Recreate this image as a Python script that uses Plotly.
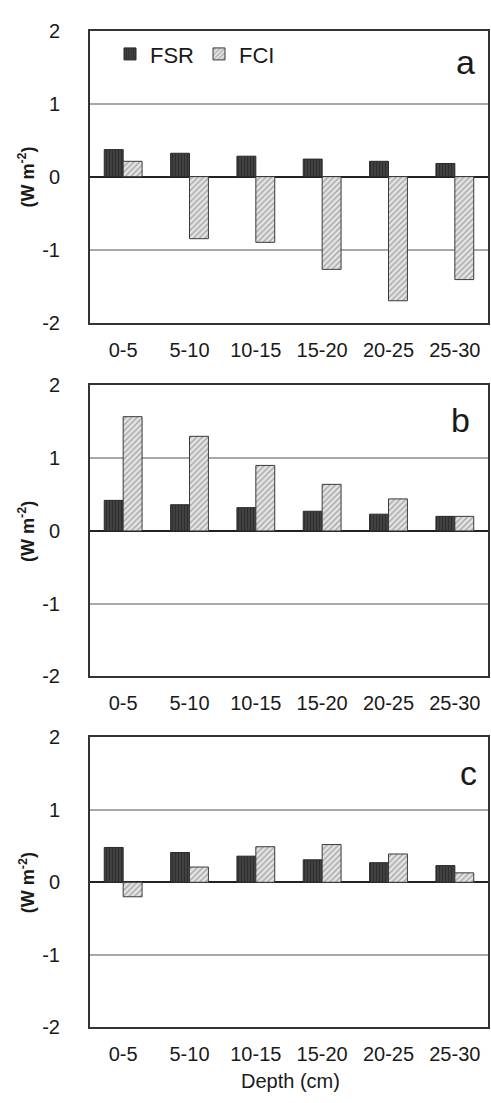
import plotly.graph_objects as go

depths = ["0-5", "5-10", "10-15", "15-20", "20-25", "25-30"]
fsr_a = [0.37, 0.32, 0.28, 0.24, 0.21, 0.18]
fci_a = [0.21, -0.85, -0.90, -1.27, -1.70, -1.41]
fsr_b = [0.42, 0.36, 0.32, 0.27, 0.23, 0.20]
fci_b = [1.57, 1.30, 0.90, 0.64, 0.44, 0.20]
fsr_c = [0.48, 0.41, 0.36, 0.31, 0.27, 0.23]
fci_c = [-0.20, 0.21, 0.49, 0.52, 0.39, 0.13]
panel_letters = ["a", "b", "c"]
y_ticks = [-2, -1, 0, 1, 2]

W, H = 491, 1103
FONT = "Liberation Sans, Arial, sans-serif"
x0, x1 = 90, 488
panels_px = [(20, 318), (382, 679), (741, 1037)]

fig = go.Figure()
series = [(fsr_a, fci_a), (fsr_b, fci_b), (fsr_c, fci_c)]
for i, (fsr, fci) in enumerate(series):
    xa = "x" if i == 0 else f"x{i+1}"
    ya = "y" if i == 0 else f"y{i+1}"
    fig.add_trace(go.Bar(
        x=depths, y=fsr, name="FSR", xaxis=xa, yaxis=ya,
        showlegend=(i == 0), legendgroup="FSR",
        marker=dict(color="#444444",
                    line=dict(color="#2a2a2a", width=1),
                    pattern=dict(shape="|", fgcolor="#1a1a1a", size=3, solidity=0.45)),
    ))
    fig.add_trace(go.Bar(
        x=depths, y=fci, name="FCI", xaxis=xa, yaxis=ya,
        showlegend=(i == 0), legendgroup="FCI",
        marker=dict(color="#e4e4e4",
                    line=dict(color="#3a3a3a", width=1),
                    pattern=dict(shape="/", fgcolor="#666666", size=4, solidity=0.35)),
    ))

layout = dict(
    width=W, height=H, margin=dict(l=0, r=0, t=0, b=0),
    paper_bgcolor="white", plot_bgcolor="white",
    barmode="group", bargap=0.43, bargroupgap=0,
    font=dict(family=FONT, size=20, color="#1a1a1a"),
    showlegend=True,
    legend=dict(orientation="h", x=110 / W, xanchor="left",
                y=1 - 44 / H, yanchor="middle",
                font=dict(size=22, family=FONT, color="#1a1a1a"),
                bgcolor="rgba(0,0,0,0)", entrywidth=44,
                itemwidth=30, tracegroupgap=0),
)
annotations = []
for i, (top, bot) in enumerate(panels_px):
    sfx = "" if i == 0 else str(i + 1)
    layout["xaxis" + sfx] = dict(
        domain=[x0 / W, x1 / W], anchor="y" + sfx,
        showline=True, mirror=True, linecolor="#333333", linewidth=2,
        showgrid=False, ticks="", tickfont=dict(size=20, family=FONT, color="#1a1a1a"),
        ticklabelstandoff=8, fixedrange=True,
    )
    layout["yaxis" + sfx] = dict(
        domain=[1 - bot / H, 1 - top / H], anchor="x" + sfx,
        range=[-2, 2], tickvals=y_ticks, ticktext=[str(v) for v in y_ticks],
        showline=True, mirror=True, linecolor="#333333", linewidth=2,
        showgrid=True, gridcolor="#a8a8a8", gridwidth=1.5,
        zeroline=True, zerolinecolor="#222222", zerolinewidth=1.5,
        ticks="", tickfont=dict(size=20, family=FONT, color="#1a1a1a"),
        ticklabelstandoff=24, fixedrange=True,
    )
    yc = (top + bot) / 2
    annotations.append(dict(
        text="<b>(W m<sup>-2</sup>)</b>", xref="paper", yref="paper",
        x=27 / W, y=1 - (yc + 1) / H, xanchor="center", yanchor="middle",
        textangle=-90, showarrow=False,
        font=dict(size=18, family=FONT, color="#1a1a1a"),
    ))
letter_pos = [(465, 52), (460, 417), (468, 778)]
for letter, (lx, ly) in zip(panel_letters, letter_pos):
    annotations.append(dict(
        text=letter, xref="paper", yref="paper", x=lx / W, y=1 - ly / H,
        xanchor="center", yanchor="middle", showarrow=False,
        font=dict(size=34, family=FONT, color="#1a1a1a"),
    ))
annotations.append(dict(
    text="Depth (cm)", xref="paper", yref="paper", x=290 / W, y=1 - 1092 / H,
    xanchor="center", yanchor="middle", showarrow=False,
    font=dict(size=20, family=FONT, color="#1a1a1a"),
))
layout["annotations"] = annotations
fig.update_layout(**layout)
fig.write_html("out.html")
